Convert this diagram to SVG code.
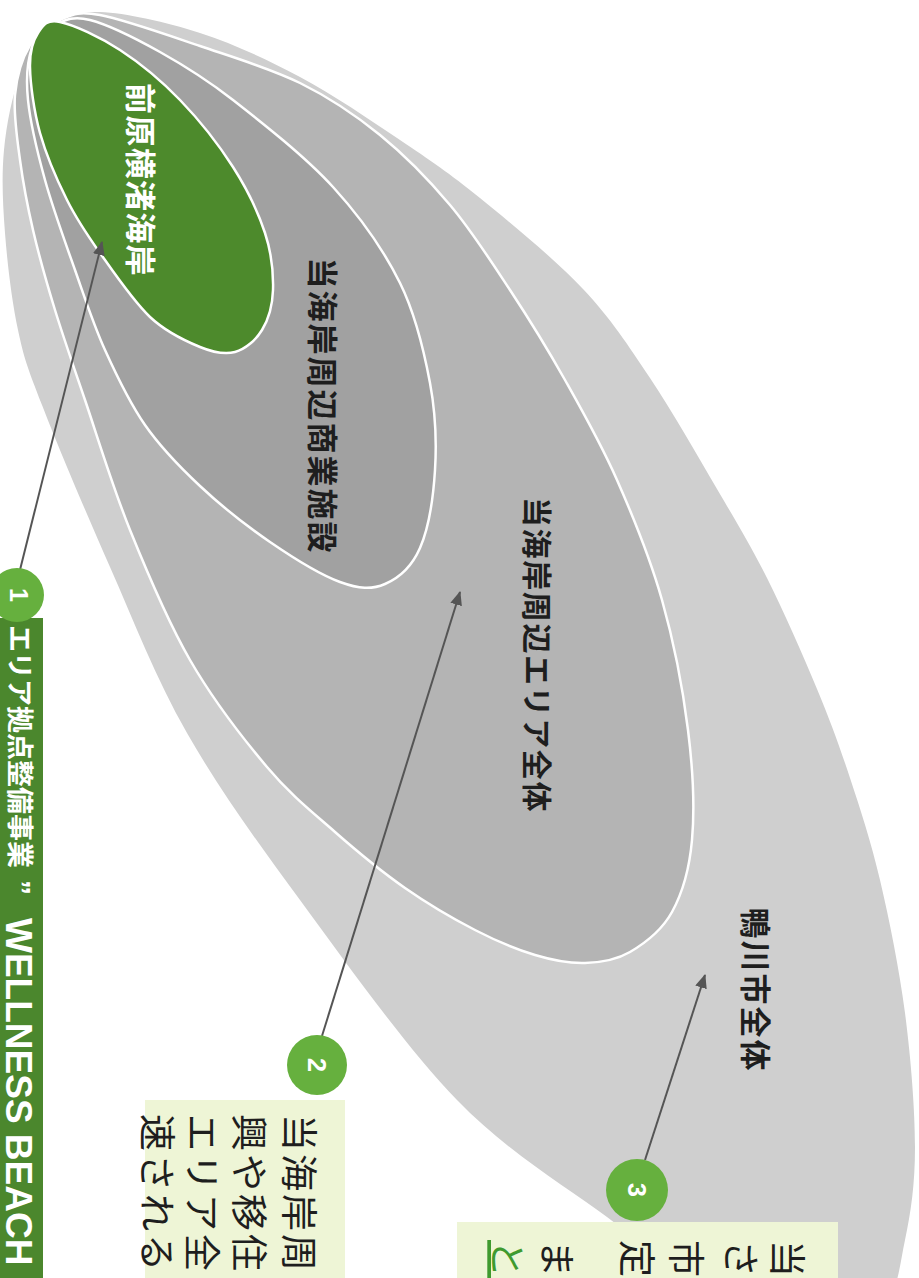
<svg xmlns="http://www.w3.org/2000/svg" width="919" height="1278" viewBox="0 0 919 1278">
<defs>
<style>
.lbl{font-family:'Noto Sans CJK JP',sans-serif;font-weight:700;fill:#1e1e1e;text-anchor:middle}
.body{font-family:'Noto Sans CJK JP',sans-serif;font-weight:400;fill:#1e1e1e;font-size:37px;letter-spacing:3px}
.num{font-family:'Liberation Sans',sans-serif;font-weight:700;fill:#fff;font-size:25px;text-anchor:middle}
.conn{stroke:#555;stroke-width:2;fill:none}
.badge{fill:#66b03e}
.box{fill:#eef5d6}
</style>
<marker id="ah" viewBox="0 0 14 12" refX="13" refY="6" markerWidth="14" markerHeight="12" orient="auto" markerUnits="userSpaceOnUse"><path d="M0,0 L14,6 L0,12 z" fill="#555"/></marker>
</defs>
<rect width="919" height="1278" fill="#fff"/>

<g id="node-kamogawa">
<path fill="#cfcfcf" d="M100,12 C125,12.8 166.7,22.2 200,33 C233.3,43.8 266.7,59.2 300,77 C333.3,94.8 370,119.8 400,140 C430,160.2 449.5,173.2 480,198 C510.5,222.8 554.7,259 583,289 C611.3,319 627.7,344.7 650,378 C672.3,411.3 697.5,455.7 717,489 C736.5,522.3 750.3,544.7 767,578 C783.7,611.3 803.2,655.7 817,689 C830.8,722.3 839.5,746.2 850,778 C860.5,809.8 870.8,840.8 880,880 C889.2,919.2 899.2,968.5 905,1013 C910.8,1057.5 915,1109.2 915,1147 C915,1184.8 910.8,1212.8 905,1240 C899.2,1267.2 897.5,1296.7 880,1310 C862.5,1323.3 830,1325 800,1320 C770,1315 732.2,1297.2 700,1280 C667.8,1262.8 647.5,1247 607,1217 C566.5,1187 508.2,1152.8 457,1100 C405.8,1047.2 345,961.2 300,900 C255,838.8 218.7,788.5 187,733 C155.3,677.5 134.2,621.7 110,567 C85.8,512.3 57.3,444.5 42,405 C26.7,365.5 24.2,358.7 18,330 C11.8,301.3 7.3,263 5,233 C2.7,203 1.5,176.3 4,150 C6.5,123.7 12.3,95.3 20,75 C27.7,54.7 36.7,38.5 50,28 C63.3,17.5 75,11.2 100,12 Z"/>
<text class="lbl" font-size="31" letter-spacing="2" transform="translate(744,990) rotate(90)">鴨川市全体</text>
</g>

<g id="node-area">
<path fill="#b4b4b4" stroke="#fff" stroke-width="2.5" d="M100,15 C123.3,19.3 166.7,34.7 200,46 C233.3,57.3 270,68.2 300,83 C330,97.8 355,114.7 380,135 C405,155.3 428.3,179.2 450,205 C471.7,230.8 490.8,260.8 510,290 C529.2,319.2 547.2,348.3 565,380 C582.8,411.7 600.8,443.3 617,480 C633.2,516.7 650.2,558.3 662,600 C673.8,641.7 683,690 688,730 C693,770 694.7,809.7 692,840 C689.3,870.3 682.3,893.3 672,912 C661.7,930.7 644.5,943.5 630,952 C615.5,960.5 600.8,962.5 585,963 C569.2,963.5 553.3,960.5 535,955 C516.7,949.5 496.7,941.2 475,930 C453.3,918.8 428.3,904.3 405,888 C381.7,871.7 358,852.2 335,832 C312,811.8 291.2,795.7 267,767 C242.8,738.3 212.8,699.5 190,660 C167.2,620.5 147.5,573.3 130,530 C112.5,486.7 97.5,436.7 85,400 C72.5,363.3 63.7,338.3 55,310 C46.3,281.7 38.8,255 33,230 C27.2,205 23,182.5 20,160 C17,137.5 13.3,114.2 15,95 C16.7,75.8 22.5,57.5 30,45 C37.5,32.5 48.3,25 60,20 C71.7,15 76.7,10.7 100,15 Z"/>
<text class="lbl" font-size="30" letter-spacing="1.6" transform="translate(526,655) rotate(90)">当海岸周辺エリア全体</text>
</g>

<g id="node-shogyo">
<path fill="#a1a1a1" stroke="#fff" stroke-width="2.5" d="M90,20 C107.5,24.5 136.2,38.7 160,52 C183.8,65.3 204.2,77.5 233,100 C261.8,122.5 305.2,156.5 333,187 C360.8,217.5 383.8,250.3 400,283 C416.2,315.7 424.2,351.8 430,383 C435.8,414.2 436.7,442.5 435,470 C433.3,497.5 428.3,529 420,548 C411.7,567 398.3,578.3 385,584 C371.7,589.7 359.2,589 340,582 C320.8,575 293.3,558 270,542 C246.7,526 220.8,505.5 200,486 C179.2,466.5 160.8,447.7 145,425 C129.2,402.3 116.7,375.8 105,350 C93.3,324.2 85,298.3 75,270 C65,241.7 52.8,208.3 45,180 C37.2,151.7 30.2,122 28,100 C25.8,78 27.5,60.5 32,48 C36.5,35.5 45.3,29.7 55,25 C64.7,20.3 72.5,15.5 90,20 Z"/>
<text class="lbl" font-size="31" letter-spacing="2" transform="translate(311,406) rotate(90)">当海岸周辺商業施設</text>
</g>

<g id="node-maehara">
<path fill="#4d8a2c" stroke="#fff" stroke-width="2.5" d="M60,22 C73.7,24.8 100,37 120,50 C140,63 161.2,80.5 180,100 C198.8,119.5 218.8,144.8 233,167 C247.2,189.2 258.3,212.5 265,233 C271.7,253.5 273.5,273.8 273,290 C272.5,306.2 268.3,319.7 262,330 C255.7,340.3 245.3,349.2 235,352 C224.7,354.8 214.2,352.8 200,347 C185.8,341.2 166.7,332.7 150,317 C133.3,301.3 113.8,272.5 100,253 C86.2,233.5 77,220 67,200 C57,180 46.2,155.2 40,133 C33.8,110.8 30.3,83.7 30,67 C29.7,50.3 33,40.5 38,33 C43,25.5 46.3,19.2 60,22 Z"/>
<text class="lbl" font-size="31" letter-spacing="1.3" style="fill:#fff" transform="translate(129,180) rotate(90)">前原横渚海岸</text>
</g>

<g id="connectors">
<line class="conn" x1="20" y1="570" x2="102" y2="242" marker-end="url(#ah)"/>
<line class="conn" x1="322" y1="1036" x2="460" y2="592" marker-end="url(#ah)"/>
<line class="conn" x1="645" y1="1160" x2="705" y2="975" marker-end="url(#ah)"/>
</g>

<g id="node-1">
<rect x="0" y="618" width="43" height="660" fill="#4b872d"/>
<circle class="badge" cx="17" cy="595" r="27"/>
<text class="num" transform="translate(10,595) rotate(90)">1</text>
<text font-family="'Liberation Sans','Noto Sans CJK JP',sans-serif" font-weight="700" fill="#fff" font-size="27" transform="translate(10,625) rotate(90)">エリア拠点整備事業<tspan x="255" font-size="30">”</tspan><tspan x="293" dy="4" font-size="37">WELLNESS BEACH</tspan></text>
</g>

<g id="node-2">
<circle class="badge" cx="317" cy="1065" r="30"/>
<text class="num" transform="translate(308,1065) rotate(90)">2</text>
<rect class="box" x="145" y="1100" width="200" height="178"/>
<text class="body" transform="translate(285,1114) rotate(90)">当海岸周</text>
<text class="body" transform="translate(235,1114) rotate(90)">興や移住</text>
<text class="body" transform="translate(188,1114) rotate(90)">エリア全</text>
<text class="body" transform="translate(143,1114) rotate(90)">速される</text>
</g>

<g id="node-3">
<rect class="box" x="457" y="1222" width="381" height="56"/>
<circle class="badge" cx="637" cy="1190" r="31"/>
<text class="num" transform="translate(628,1190) rotate(90)">3</text>
<text class="body" transform="translate(773,1240) rotate(90)">当</text>
<text class="body" transform="translate(727,1240) rotate(90)">さ</text>
<text class="body" transform="translate(672,1240) rotate(90)">市</text>
<text class="body" transform="translate(623,1240) rotate(90)">定</text>
<text class="body" transform="translate(543,1240) rotate(90)">ま</text>
<text class="body" transform="translate(493,1240) rotate(90)" style="fill:#3f9a2f" text-decoration="underline">と</text>
</g>
</svg>
